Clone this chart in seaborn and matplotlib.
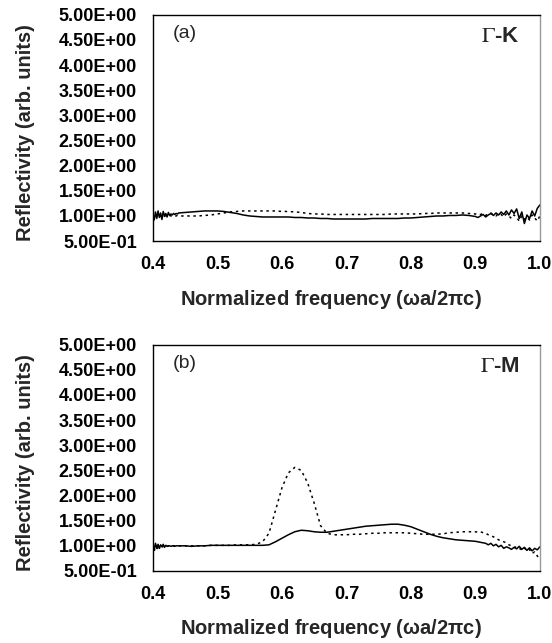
import numpy as np
import pandas as pd
import matplotlib
matplotlib.use("Agg")
import matplotlib.pyplot as plt
import seaborn as sns

# frequency sampling grids
freq_start = np.round(np.arange(0.400, 0.4401, 0.002), 3)   # 21
freq_mid = np.round(np.arange(0.45, 0.8901, 0.01), 3)       # 45
freq_end = np.round(np.arange(0.900, 1.0001, 0.004), 3)     # 26
freq = np.concatenate([freq_start, freq_mid, freq_end])

# Panel (a) Gamma-K
gk_solid = [1.00, 0.92, 1.08, 0.95, 1.10, 0.97, 1.06, 0.93, 1.09, 1.00, 1.05, 0.98, 1.07, 1.01, 1.04, 1.02, 1.05, 1.03, 1.05, 1.04, 1.06,
            1.07, 1.08, 1.09, 1.10, 1.10, 1.10, 1.09, 1.07, 1.05, 1.02, 1.00, 0.99, 0.98, 0.98, 0.98, 0.98, 0.98, 0.97, 0.97, 0.96,
            0.96, 0.95, 0.95, 0.94, 0.94, 0.94, 0.94, 0.94, 0.94, 0.95, 0.95, 0.95, 0.95, 0.95, 0.96, 0.96, 0.97, 0.98, 0.99, 1.00,
            1.00, 1.01, 1.01, 1.02, 1.01,
            0.99, 0.97, 1.00, 1.03, 0.98, 1.02, 1.05, 1.01, 1.06, 1.02, 1.08, 1.03, 1.10, 1.02, 1.12, 1.05, 1.14, 0.95, 1.08, 0.85,
            1.02, 0.95, 1.10, 1.00, 1.15, 1.22]
gk_dot = [1.00, 0.97, 1.03, 0.99, 1.02, 0.98, 1.01, 1.00, 1.02, 0.99, 1.01, 1.00, 1.00, 1.01, 1.00, 1.00, 1.01, 1.00, 1.00, 1.01, 1.00,
          1.00, 1.00, 1.00, 1.01, 1.02, 1.04, 1.06, 1.08, 1.09, 1.10, 1.10, 1.10, 1.10, 1.10, 1.10, 1.09, 1.09, 1.08, 1.07, 1.05,
          1.04, 1.04, 1.03, 1.03, 1.03, 1.03, 1.03, 1.03, 1.03, 1.03, 1.03, 1.03, 1.04, 1.04, 1.04, 1.04, 1.04, 1.05, 1.05, 1.06,
          1.06, 1.06, 1.06, 1.06, 1.05,
          1.04, 1.02, 1.03, 1.05, 1.01, 1.04, 1.06, 1.02, 1.00, 1.05, 1.03, 0.98, 1.04, 1.00, 0.95, 1.02, 0.97, 0.90, 1.00, 0.93,
          0.98, 0.92, 1.02, 0.96, 0.90, 1.00]

# Panel (b) Gamma-M
gm_solid = [1.00, 0.93, 1.05, 0.95, 1.03, 0.96, 1.02, 0.98, 1.03, 0.97, 1.01, 0.99, 1.00, 1.00, 0.99, 1.00, 1.00, 0.99, 1.00, 1.00, 1.00,
            1.00, 0.99, 1.00, 1.00, 1.01, 1.01, 1.01, 1.01, 1.01, 1.01, 1.01, 1.01, 1.01, 1.02, 1.08, 1.15, 1.22, 1.28, 1.31, 1.30,
            1.28, 1.27, 1.27, 1.29, 1.31, 1.33, 1.35, 1.37, 1.39, 1.40, 1.41, 1.42, 1.43, 1.43, 1.41, 1.38, 1.33, 1.28, 1.23, 1.19,
            1.16, 1.14, 1.12, 1.11, 1.10,
            1.09, 1.08, 1.07, 1.06, 1.05, 1.02, 1.05, 1.00, 1.03, 0.98, 1.01, 0.95, 0.98, 0.96, 0.93, 0.97, 0.94, 0.99, 0.93, 0.97,
            0.91, 0.96, 0.90, 0.95, 0.92, 0.98]
gm_dot = [0.98, 0.88, 1.02, 0.92, 1.01, 0.95, 1.00, 0.97, 1.00, 0.98, 1.00, 0.99, 1.00, 1.00, 1.00, 0.99, 1.00, 1.00, 1.00, 1.00, 1.00,
          1.00, 1.00, 1.00, 1.00, 1.01, 1.01, 1.01, 1.01, 1.02, 1.02, 1.02, 1.03, 1.08, 1.25, 1.70, 2.15, 2.45, 2.56, 2.50, 2.25,
          1.85, 1.40, 1.25, 1.22, 1.22, 1.22, 1.23, 1.23, 1.24, 1.25, 1.25, 1.26, 1.26, 1.26, 1.26, 1.25, 1.24, 1.23, 1.23, 1.23,
          1.24, 1.26, 1.27, 1.28, 1.28,
          1.28, 1.27, 1.28, 1.26, 1.25, 1.22, 1.20, 1.18, 1.15, 1.12, 1.10, 1.08, 1.06, 1.02, 1.00, 0.97, 0.98, 0.95, 0.92, 0.96,
          0.90, 0.93, 0.85, 0.88, 0.80, 0.72]

ytick_vals = [0.5, 1.0, 1.5, 2.0, 2.5, 3.0, 3.5, 4.0, 4.5, 5.0]
ytick_labels = ["5.00E-01", "1.00E+00", "1.50E+00", "2.00E+00", "2.50E+00",
                "3.00E+00", "3.50E+00", "4.00E+00", "4.50E+00", "5.00E+00"]
xtick_vals = [0.4, 0.5, 0.6, 0.7, 0.8, 0.9, 1.0]
xtick_labels = ["0.4", "0.5", "0.6", "0.7", "0.8", "0.9", "1.0"]

sns.set_style("white")
plt.rcParams['font.family'] = ['Liberation Sans', 'DejaVu Sans']
plt.rcParams['mathtext.fontset'] = 'stix'

fig = plt.figure(figsize=(5.52, 6.43), dpi=100)
ax_a = fig.add_axes([0.277, 0.625, 0.701, 0.352])
ax_b = fig.add_axes([0.277, 0.112, 0.701, 0.352])

panels = [
    (ax_a, gk_solid, gk_dot, "(a)", r"$\Gamma$-K"),
    (ax_b, gm_solid, gm_dot, "(b)", r"$\Gamma$-M"),
]

for ax, ys, yd, tag, direction in panels:
    df = pd.DataFrame({
        "freq": np.concatenate([freq, freq]),
        "refl": np.concatenate([ys, yd]),
        "pol": ["solid"] * len(freq) + ["dot"] * len(freq),
    })
    sns.lineplot(data=df, x="freq", y="refl", style="pol",
                 dashes={"solid": "", "dot": (1.6, 2.4)},
                 color="black", linewidth=1.1, estimator=None,
                 errorbar=None, legend=False, ax=ax)
    ax.set_xlim(0.4, 1.0)
    ax.set_ylim(0.5, 5.0)
    ax.set_xticks(xtick_vals)
    ax.set_xticklabels(xtick_labels)
    ax.set_yticks(ytick_vals)
    ax.set_yticklabels(ytick_labels)
    ax.tick_params(axis="both", direction="in", length=6, width=0.9,
                   labelsize=13, colors="black")
    ax.tick_params(axis="y", pad=11.5)
    ax.tick_params(axis="x", pad=10.5)
    for lab in ax.get_xticklabels() + ax.get_yticklabels():
        lab.set_fontweight("bold")
    ax.set_xlabel(r"Normalized frequency ($\mathregular{\omega}$a/2$\mathregular{\pi}$c)",
                  fontsize=14.5, fontweight="bold")
    ax.set_ylabel("Reflectivity (arb. units)", fontsize=14.5, fontweight="bold")
    ax.xaxis.set_label_coords(0.46, -0.205)
    ax.yaxis.set_label_coords(-0.305, 0.48)
    for side in ["left", "bottom", "top"]:
        ax.spines[side].set_color("black")
        ax.spines[side].set_linewidth(1.0)
    ax.spines["right"].set_color("#999999")
    ax.spines["right"].set_linewidth(1.0)
    ax.text(0.052, 0.916, tag, transform=ax.transAxes, fontsize=14,
            ha="left", va="center")
    ax.text(0.948, 0.903, direction, transform=ax.transAxes, fontsize=16,
            fontweight="bold", ha="right", va="center")

fig.savefig("out.png", dpi=100)
